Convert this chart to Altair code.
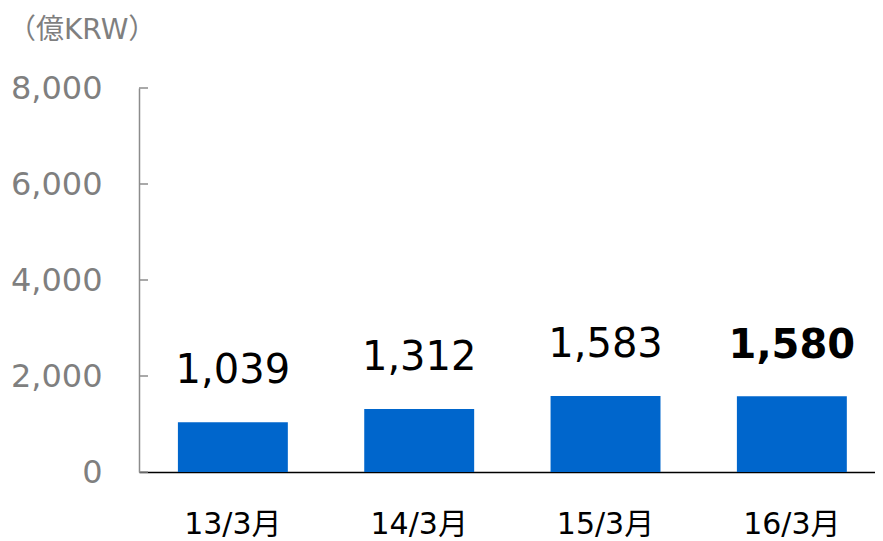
import altair as alt
import pandas as pd

periods = ["13/3月", "14/3月", "15/3月", "16/3月"]
values = [1039, 1312, 1583, 1580]
y_ticks = [0, 2000, 4000, 6000, 8000]

df = pd.DataFrame({"period": periods, "value": values})
ticks_df = pd.DataFrame({"t": y_ticks})

FONT = "DejaVu Sans, Noto Sans CJK JP"
GREY = "#7f7f7f"

x_enc = alt.X("period:N", sort=periods, title=None,
              scale=alt.Scale(paddingInner=0.41, paddingOuter=0.18, align=0.58),
              axis=alt.Axis(labelAngle=0, labelFontSize=30, labelColor="black",
                            labelFont=FONT, ticks=False, labelPadding=37,
                            domainColor="#000000", domainWidth=1.5))
y_enc = alt.Y("value:Q", title=None,
              scale=alt.Scale(domain=[0, 8000]),
              axis=alt.Axis(values=y_ticks, format=",d", grid=False, ticks=False,
                            labelFontSize=32, labelColor=GREY, labelFont=FONT,
                            labelPadding=37, domainColor="#8c8c8c", domainWidth=1.5))

bars = alt.Chart(df).mark_bar(color="#0066cc").encode(x=x_enc, y=y_enc)

labels = alt.Chart(df).mark_text(baseline="alphabetic", dy=-39, fontSize=40,
                                 font=FONT, color="black").encode(
    x=alt.X("period:N", sort=periods),
    y="value:Q",
    text=alt.Text("value:Q", format=",d"),
).transform_filter(alt.datum.period != "16/3月")

labels_bold = alt.Chart(df).mark_text(baseline="alphabetic", dy=-38, fontSize=40,
                                      font=FONT, color="black", fontWeight="bold").encode(
    x=alt.X("period:N", sort=periods),
    y="value:Q",
    text=alt.Text("value:Q", format=",d"),
).transform_filter(alt.datum.period == "16/3月")

tick_marks = alt.Chart(ticks_df).mark_rule(color="#8c8c8c", strokeWidth=1.5).encode(
    y="t:Q", x=alt.value(0), x2=alt.value(9))

chart = alt.layer(bars, tick_marks, labels, labels_bold).properties(
    width=736, height=384,
    autosize=alt.AutoSizeParams(type="none"),
    padding={"left": 131, "top": 80, "right": 0, "bottom": 75},
    title=alt.TitleParams("（億KRW）", anchor="start", frame="group", dx=-131,
                          offset=27, fontSize=28, color=GREY, fontWeight="normal",
                          font=FONT),
).configure_view(stroke=None)

chart.save("out.html", embed_options={"renderer": "svg", "actions": False})
